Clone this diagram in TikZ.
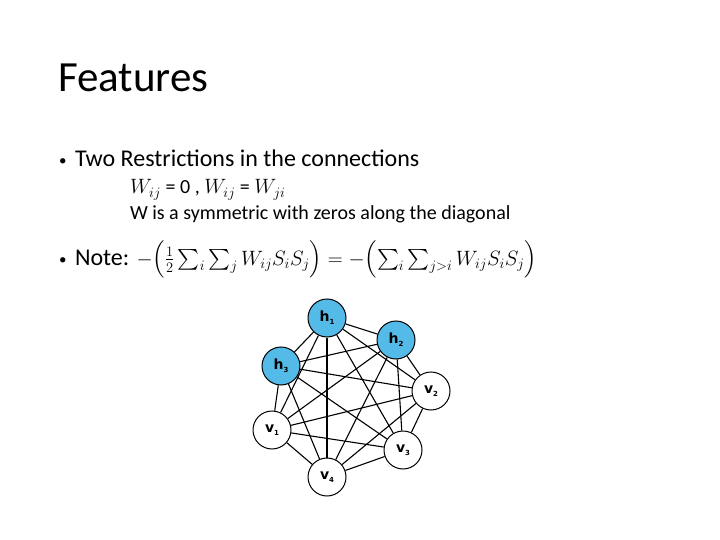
\documentclass[tikz,border=0pt]{standalone}
\usepackage{amsmath}
\usepackage{fontspec}
\setmainfont{Carlito}
\newfontfamily\labfont{DejaVu Sans}
\definecolor{hblue}{RGB}{84,187,232}
\begin{document}
\begin{tikzpicture}[x=1pt,y=-1pt,
  txt/.style={anchor=base west,inner sep=0pt,outer sep=0pt},
  unit/.style={circle,draw=black,line width=1pt,minimum size=38pt,inner sep=0pt,fill=white,font=\labfont\bfseries\fontsize{14}{16}\selectfont},
  hid/.style={unit,fill=hblue},
  conn/.style={line width=1.1pt,black}]
\useasboundingbox (0,0) rectangle (720,540);
\node[txt,font=\fontsize{43}{48}\selectfont] (title) at (58,92) {Features};
\node[txt,font=\fontsize{15}{24}\selectfont] (b1) at (59,166) {•};
\node[txt,font=\fontsize{24}{28}\selectfont] (t1) at (75,167) {Two Restrictions in the connections};
\node[txt,font=\fontsize{20}{22}\selectfont] (t2) at (130,194) {$W_{ij}$ = 0 , $W_{ij}$ = $W_{ji}$};
\node[txt,font=\fontsize{20}{22}\selectfont] (t3) at (130,220) {W is a symmetric with zeros along the diagonal};
\node[txt,font=\fontsize{15}{24}\selectfont] (b2) at (59,264) {•};
\node[txt,font=\fontsize{24}{28}\selectfont] (t4) at (75,265) {Note: {\fontsize{22}{24}\selectfont$-\Bigl(\tfrac{1}{2}\sum_i\sum_j W_{ij}S_iS_j\Bigr) = -\Bigl(\sum_i\sum_{j>i}W_{ij}S_iS_j\Bigr)$}};
\node[hid] (h1) at (327,318) {h\raisebox{-3pt}{\scriptsize 1}};
\node[hid] (h2) at (396,340) {h\raisebox{-3pt}{\scriptsize 2}};
\node[hid] (h3) at (281,366) {h\raisebox{-3pt}{\scriptsize 3}};
\node[unit] (v2) at (431,391) {v\raisebox{-3pt}{\scriptsize 2}};
\node[unit] (v1) at (272,430) {v\raisebox{-3pt}{\scriptsize 1}};
\node[unit] (v3) at (403,450) {v\raisebox{-3pt}{\scriptsize 3}};
\node[unit] (v4) at (327,477) {v\raisebox{-3pt}{\scriptsize 4}};
\foreach \a/\b in {h1/h2,h1/h3,h1/v1,h1/v2,h1/v3,h1/v4,h2/h3,h2/v1,h2/v2,h2/v3,h2/v4,h3/v1,h3/v2,h3/v3,h3/v4,v1/v2,v1/v3,v1/v4,v2/v3,v2/v4,v3/v4}
  \draw[conn] (\a) -- (\b);
\end{tikzpicture}
\end{document}
